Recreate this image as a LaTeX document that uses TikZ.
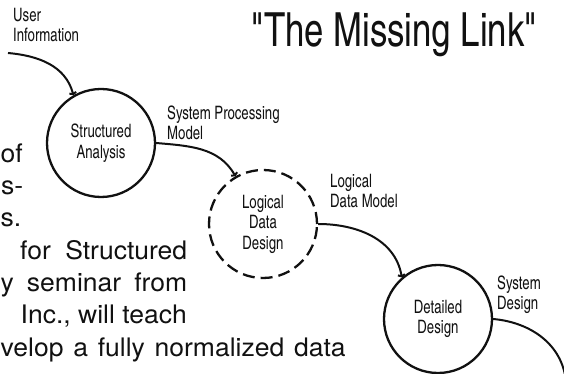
\documentclass[tikz,border=0pt]{standalone}
\usepackage{fontspec}
\setmainfont[FakeStretch=1.04]{TeX Gyre Heros}
\newfontfamily\narrowfont[FakeStretch=0.87]{TeX Gyre Heros Cn}
\newfontfamily\headfont[FakeStretch=0.9]{TeX Gyre Heros Cn}
\usepackage{tikz}
\usetikzlibrary{arrows.meta}
\definecolor{inkblack}{HTML}{111111}

\begin{document}
\begin{tikzpicture}[x=1pt, y=1pt,
  stage/.style={circle, draw=inkblack, line width=2.3pt, minimum size=108pt, inner sep=0pt, align=center, text=inkblack, font=\narrowfont\fontsize{18.5}{20.5}\selectfont},
  flowlabel/.style={anchor=base west, align=left, inner sep=0pt, text=inkblack, font=\narrowfont\fontsize{18.5}{20}\selectfont},
  flow/.style={line width=2pt, draw=inkblack, -{Straight Barb[length=1.5pt, width=7pt]}},
  bodyline/.style={inner sep=0pt, text=inkblack, font=\fontsize{25.5}{32}\selectfont},
  headline/.style={anchor=base east, inner sep=0pt, text=inkblack, font=\headfont\fontsize{47}{47}\selectfont}]
  \useasboundingbox (0,0) rectangle (564,374);
  \clip (0,0) rectangle (564,374);
  \node[headline] (title) at (537,327) {"The Missing Link"};
  \node[stage] (sa) at (101,231) {Structured\\Analysis};
  \node[stage, dash pattern=on 12pt off 6pt] (ldd) at (263,150) {Logical\\Data\\Design};
  \node[stage] (dd) at (438,55) {Detailed\\Design};
  \coordinate (user) at (8,321);
  \coordinate (off) at (566,-8);
  \node[flowlabel] (userlbl) at (13,332) {User\\Information};
  \node[flowlabel] (splbl) at (167,234) {System Processing\\Model};
  \node[flowlabel] (ldmlbl) at (330,166) {Logical\\Data Model};
  \node[flowlabel] (sdlbl) at (497,64) {System\\Design};
  \draw[flow] (user) to[out=-5, in=105] (sa.120);
  \draw[flow] (sa.east) to[out=-5, in=120] (ldd.120);
  \draw[flow] (ldd.east) to[out=0, in=100] (dd.131);
  \draw[flow, -] (dd.east) to[out=-5, in=95] (off);
  \node[bodyline, anchor=base west] (of) at (0.5,211) {of};
  \node[bodyline, anchor=base west] (hyph) at (1,179) {s-};
  \node[bodyline, anchor=base west] (stop) at (0.5,147) {s.};
  \node[bodyline, anchor=base west] (for) at (20,114) {\makebox[167pt][s]{for Structured}};
  \node[bodyline, anchor=base west] (seminar) at (0.5,82) {\makebox[186.5pt][s]{y seminar from}};
  \node[bodyline, anchor=base east] (inc) at (187,50) {Inc., will teach};
  \node[bodyline, anchor=base west] (velop) at (0.5,17) {\makebox[345pt][s]{velop a fully normalized data}};
\end{tikzpicture}
\end{document}
